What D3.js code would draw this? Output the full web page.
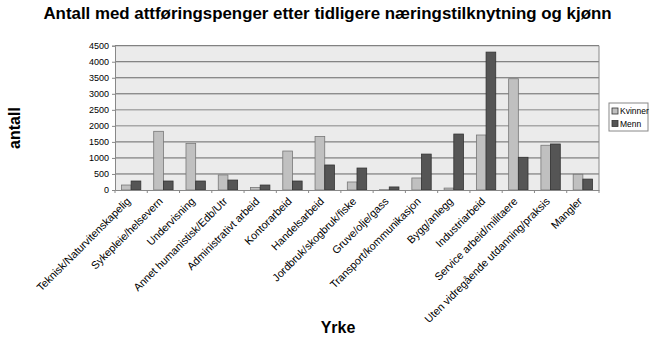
<!DOCTYPE html>
<html><head><meta charset="utf-8">
<script src="https://cdn.jsdelivr.net/npm/d3@7"></script>
<style>body{margin:0;background:#fff}svg{font-family:"Liberation Sans",Arial,sans-serif}</style>
</head><body><svg id="c" width="650" height="354"></svg>
<script>
const categories = ["Teknisk/Naturvitenskapelig","Sykepleie/helsevern","Undervisning","Annet humanistisk/Edb/Utr","Administrativt arbeid","Kontorarbeid","Handelsarbeid","Jordbruk/skogbruk/fiske","Gruve/olje/gass","Transport/kommunikasjon","Bygg/anlegg","Industriarbeid","Service arbeid/militaere","Uten vidregående utdanning/praksis","Mangler"];
const kvinner = [155,1830,1455,470,80,1215,1670,250,10,375,60,1715,3470,1395,490];
const menn    = [280,280,280,310,155,280,780,685,95,1120,1745,4300,1020,1435,340];
const yTicks = [0,500,1000,1500,2000,2500,3000,3500,4000,4500];
const seriesNames = ["Kvinner","Menn"];
const colors = ["#c0c0c0","#555555"];

const FF = "'Liberation Sans',Arial,sans-serif";
const svg = d3.select("#c");
const L=115, R=599, T=45.7, B=190;
const x = d3.scaleBand().domain(categories).range([L,R]).padding(0);
const y = d3.scaleLinear().domain([0,4500]).range([B,T]);

svg.append("rect").attr("x",L).attr("y",T).attr("width",R-L).attr("height",B-T).attr("fill","#ebebeb");
svg.append("g").selectAll("line").data(yTicks.filter(d=>d>0)).join("line")
  .attr("x1",L).attr("x2",R).attr("y1",d=>y(d)).attr("y2",d=>y(d))
  .attr("stroke",d=>(d===2000||d===2500)?"#a8a8a8":"#666").attr("stroke-width",d=>(d===2000||d===2500)?1.5:1);
svg.append("line").attr("x1",R).attr("x2",R).attr("y1",T).attr("y2",B).attr("stroke","#888");

const bw = x.bandwidth()*0.3;
const data = [kvinner,menn];
data.forEach((vals,si)=>{
  svg.append("g").selectAll("rect").data(categories).join("rect")
    .attr("x",(d,i)=>x(d)+x.bandwidth()/2 + (si===0?-bw:0))
    .attr("y",(d,i)=>y(vals[i]))
    .attr("width",bw)
    .attr("height",(d,i)=>B-y(vals[i]))
    .attr("fill",colors[si]).attr("stroke",si===0?"#777":"#333").attr("stroke-width",0.8);
});

const ya = svg.append("g").attr("transform",`translate(${L},0)`)
  .call(d3.axisLeft(y).tickValues(yTicks).tickSize(3).tickFormat(d3.format("d")));
ya.select(".domain").attr("stroke","#888");
ya.selectAll("line").attr("stroke","#888");
ya.selectAll("text").attr("font-size",9).attr("fill","#000").attr("font-family",FF);

const xa = svg.append("g").attr("transform",`translate(0,${B})`)
  .call(d3.axisBottom(x).tickSize(0).tickFormat(""));
xa.select(".domain").attr("stroke","#888");
svg.append("g").selectAll("line").data(categories.concat(["_end"])).join("line")
  .attr("x1",(d,i)=>L+i*x.step()).attr("x2",(d,i)=>L+i*x.step())
  .attr("y1",B).attr("y2",B+3).attr("stroke","#888");

const labels = svg.append("g").selectAll("text").data(categories).join("text")
  .attr("transform",d=>`translate(${x(d)+x.bandwidth()/2},${B+12}) rotate(-45)`)
  .attr("text-anchor","end").attr("font-size",11).attr("fill","#000").attr("font-family",FF).text(d=>d);
// fit label size so the longest label matches the reference length
const longest = labels.filter(d=>d===categories[13]).node();
const fs = 11*172/longest.getComputedTextLength();
labels.attr("font-size",fs);

const title = svg.append("text").attr("x",327.5).attr("y",19).attr("text-anchor","middle").attr("font-family",FF)
  .attr("font-size",15.5).attr("font-weight","bold").text("Antall med attføringspenger etter tidligere næringstilknytning og kjønn");
title.attr("font-size",15.5*569/title.node().getComputedTextLength());
svg.append("text").attr("transform","translate(20,128) rotate(-90)").attr("text-anchor","middle").attr("font-family",FF)
  .attr("font-size",16).attr("font-weight","bold").text("antall");
svg.append("text").attr("x",338).attr("y",333).attr("text-anchor","middle").attr("font-family",FF)
  .attr("font-size",16).attr("font-weight","bold").text("Yrke");

const lg = svg.append("g");
lg.append("rect").attr("x",609).attr("y",103).attr("width",39).attr("height",28).attr("fill","#fff").attr("stroke","#888");
seriesNames.forEach((n,i)=>{
  lg.append("rect").attr("x",612).attr("y",108+i*12.5).attr("width",6).attr("height",6)
    .attr("fill",colors[i]).attr("stroke","#333").attr("stroke-width",0.8);
  lg.append("text").attr("x",620).attr("y",114+i*12.5).attr("font-size",8.5).attr("font-family",FF).text(n);
});
</script></body></html>
